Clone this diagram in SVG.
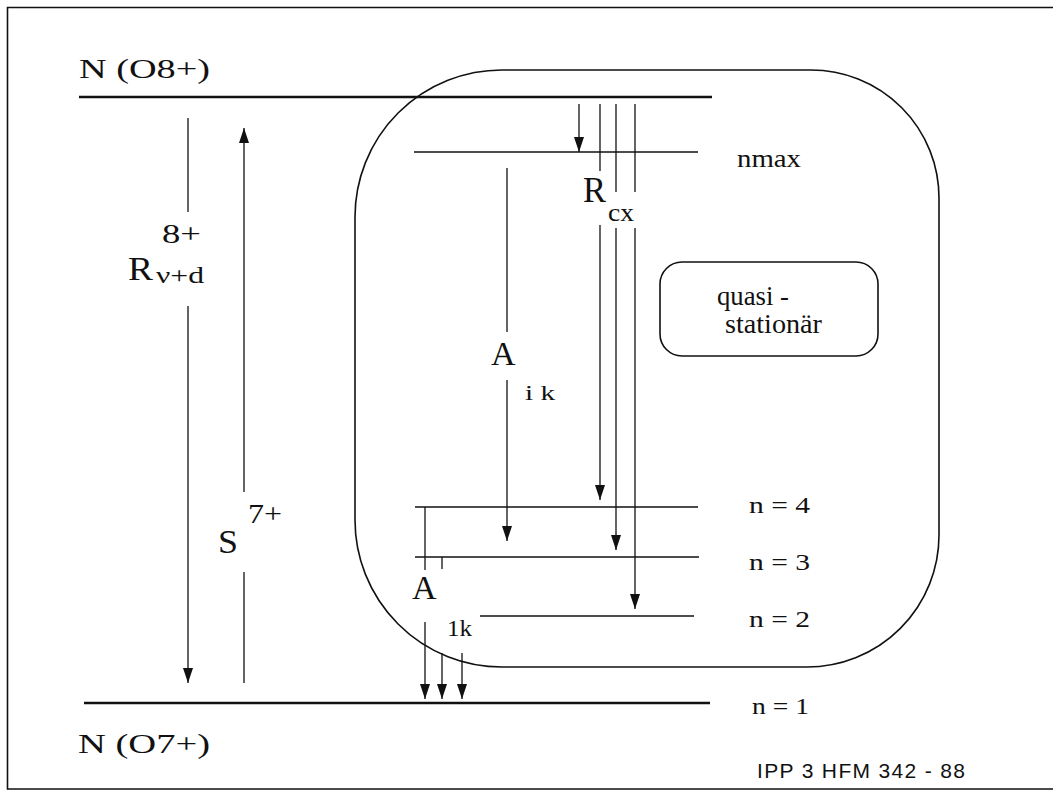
<svg xmlns="http://www.w3.org/2000/svg" width="1053" height="792" viewBox="0 0 1053 792">
<defs>
<style>
.serif{font-family:"Liberation Serif","Times New Roman",serif;fill:#111}
.sans{font-family:"Liberation Sans",Arial,sans-serif;fill:#111}
.lvl{stroke:#111;stroke-width:1.6;fill:none}
.thick{stroke:#111;stroke-width:2.4;fill:none}
.ar{stroke:#111;stroke-width:1.3;fill:none}
.box{stroke:#111;stroke-width:1.6;fill:none}
</style>
<marker id="ah" viewBox="0 0 15 10" refX="15" refY="5" markerWidth="15" markerHeight="10" orient="auto" markerUnits="userSpaceOnUse">
<path d="M0,0 L15,5 L0,10 z" fill="#111"/>
</marker>
</defs>
<rect width="1053" height="792" fill="#fff"/>
<g id="frame">
<path d="M1053,7.5 H7.5 V789 H1053" class="lvl"/>
</g>
<g id="region-quasistationary">
<path d="M502,70 H811 A128,128 0 0 1 939,198 V535 A132,132 0 0 1 807,667 H502 A147,147 0 0 1 355,520 V217 A147,147 0 0 1 502,70 Z" class="box"/>
</g>
<g id="label-quasi">
<rect x="660" y="262" width="218" height="94" rx="22" ry="22" class="box"/>
<text x="717" y="305" class="serif" font-size="28" textLength="72" lengthAdjust="spacingAndGlyphs">quasi -</text>
<text x="725" y="333" class="serif" font-size="28" textLength="97" lengthAdjust="spacingAndGlyphs">stationär</text>
</g>
<g id="level-O8">
<line x1="79" y1="97" x2="712" y2="97" class="thick"/>
<text x="79" y="78" class="serif" font-size="28" textLength="131" lengthAdjust="spacingAndGlyphs">N (O8+)</text>
</g>
<g id="level-nmax">
<line x1="414" y1="152" x2="698" y2="152" class="lvl"/>
<text x="737" y="167" class="serif" font-size="26" textLength="64" lengthAdjust="spacingAndGlyphs">nmax</text>
</g>
<g id="level-n4">
<line x1="415" y1="507" x2="698" y2="507" class="lvl"/>
<text x="749" y="513" class="serif" font-size="24" textLength="61" lengthAdjust="spacingAndGlyphs">n = 4</text>
</g>
<g id="level-n3">
<line x1="415" y1="557" x2="699" y2="557" class="lvl"/>
<text x="749" y="570" class="serif" font-size="24" textLength="61" lengthAdjust="spacingAndGlyphs">n = 3</text>
</g>
<g id="level-n2">
<line x1="480" y1="616" x2="694" y2="616" class="lvl"/>
<text x="749" y="627" class="serif" font-size="24" textLength="61" lengthAdjust="spacingAndGlyphs">n = 2</text>
</g>
<g id="level-O7">
<line x1="84" y1="703" x2="710" y2="703" class="thick"/>
<text x="752" y="714" class="serif" font-size="24" textLength="57" lengthAdjust="spacingAndGlyphs">n = 1</text>
<text x="78" y="753" class="serif" font-size="28" textLength="132" lengthAdjust="spacingAndGlyphs">N (O7+)</text>
</g>
<g id="connectors">
<line x1="188" y1="118" x2="188" y2="212" class="ar"/>
<line x1="188" y1="306" x2="188" y2="683" class="ar" marker-end="url(#ah)"/>
<line x1="244" y1="492" x2="244" y2="128" class="ar" marker-end="url(#ah)"/>
<line x1="244" y1="572" x2="244" y2="683" class="ar"/>
<line x1="579" y1="104" x2="579" y2="152" class="ar" marker-end="url(#ah)"/>
<line x1="600" y1="104" x2="600" y2="171" class="ar"/>
<line x1="600" y1="225" x2="600" y2="500" class="ar" marker-end="url(#ah)"/>
<line x1="616" y1="104" x2="616" y2="192" class="ar"/>
<line x1="616" y1="228" x2="616" y2="550" class="ar" marker-end="url(#ah)"/>
<line x1="635" y1="104" x2="635" y2="192" class="ar"/>
<line x1="635" y1="228" x2="635" y2="609" class="ar" marker-end="url(#ah)"/>
<line x1="507" y1="168" x2="507" y2="332" class="ar"/>
<line x1="507" y1="380" x2="507" y2="541" class="ar" marker-end="url(#ah)"/>
<line x1="425" y1="507" x2="425" y2="570" class="ar"/>
<line x1="442" y1="557" x2="442" y2="569" class="ar"/>
<line x1="425" y1="622" x2="425" y2="699" class="ar" marker-end="url(#ah)"/>
<line x1="442" y1="653" x2="442" y2="699" class="ar" marker-end="url(#ah)"/>
<line x1="462" y1="653" x2="462" y2="699" class="ar" marker-end="url(#ah)"/>
</g>
<g id="label-Rvd">
<text x="162" y="243" class="serif" font-size="27" textLength="39" lengthAdjust="spacingAndGlyphs">8+</text>
<text x="128" y="280" class="serif" font-size="34" textLength="25" lengthAdjust="spacingAndGlyphs">R</text>
<text x="156" y="283" class="serif" font-size="23" textLength="48" lengthAdjust="spacingAndGlyphs">ν+d</text>
</g>
<g id="label-S">
<text x="248" y="523" class="serif" font-size="27" textLength="34" lengthAdjust="spacingAndGlyphs">7+</text>
<text x="218" y="553" class="serif" font-size="34" textLength="20" lengthAdjust="spacingAndGlyphs">S</text>
</g>
<g id="label-Rcx">
<text x="583" y="202" class="serif" font-size="35" textLength="23" lengthAdjust="spacingAndGlyphs">R</text>
<text x="608" y="221" class="serif" font-size="26" textLength="26" lengthAdjust="spacingAndGlyphs">cx</text>
</g>
<g id="label-Aik">
<text x="491" y="365" class="serif" font-size="34">A</text>
<text x="525" y="400" class="serif" font-size="22" textLength="30" lengthAdjust="spacingAndGlyphs">i k</text>
</g>
<g id="label-A1k">
<text x="412" y="599" class="serif" font-size="34">A</text>
<text x="447" y="636" class="serif" font-size="24" textLength="25" lengthAdjust="spacingAndGlyphs">1k</text>
</g>
<g id="footer">
<text x="757" y="778" class="sans" font-size="21" textLength="208" lengthAdjust="spacing">IPP 3 HFM 342 - 88</text>
</g>
</svg>
